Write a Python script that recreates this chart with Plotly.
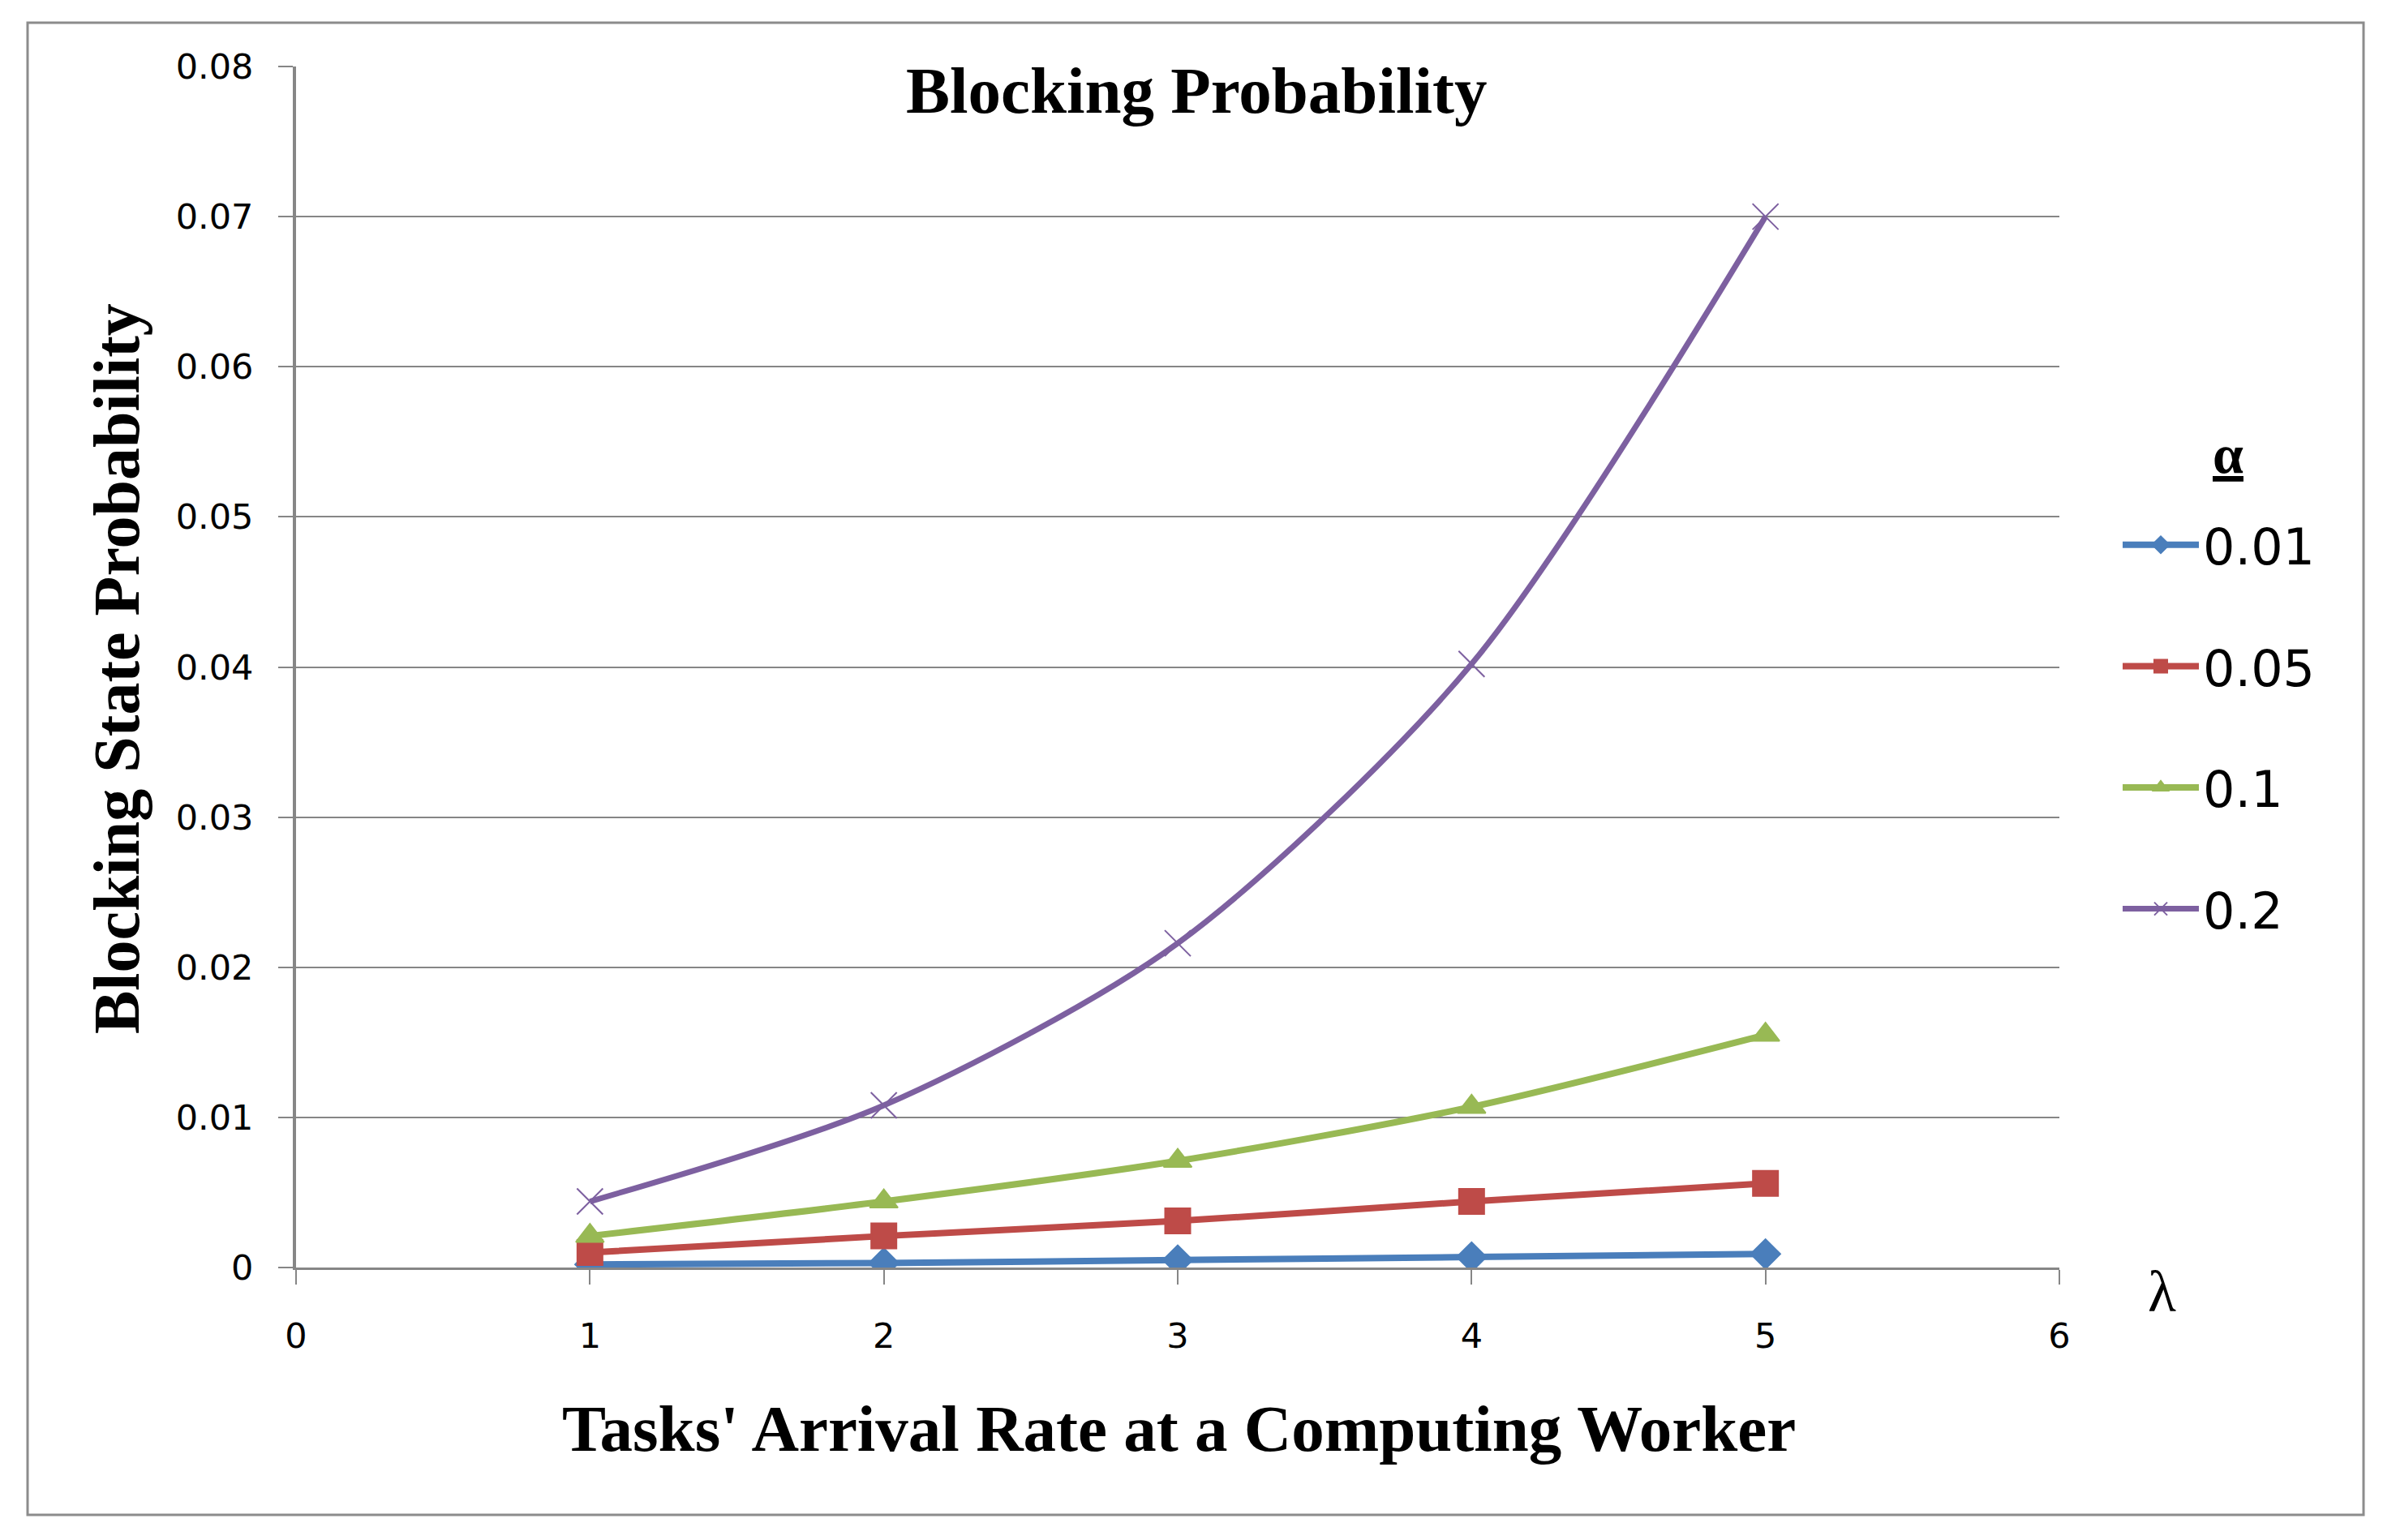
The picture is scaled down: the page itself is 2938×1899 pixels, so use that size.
import plotly.graph_objects as go

W, H = 2938, 1899
OFF = 8  # page body margin
FW, FH = W - 2 * OFF, H - 2 * OFF
L, R, T, B = 365 - OFF, 2539 - OFF, 82 - OFF, 1563 - OFF  # plot area in figure px

x_vals = [1, 2, 3, 4, 5]
series_names = ["0.01", "0.05", "0.1", "0.2"]
y_001 = [0.0002, 0.0003, 0.0005, 0.0007, 0.0009]
y_005 = [0.0010, 0.0021, 0.0031, 0.0044, 0.0056]
y_01 = [0.0021, 0.0044, 0.0071, 0.0107, 0.0155]
y_02 = [0.0044, 0.0108, 0.0216, 0.0402, 0.0700]
x_ticks = [0, 1, 2, 3, 4, 5, 6]
y_ticks = [0, 0.01, 0.02, 0.03, 0.04, 0.05, 0.06, 0.07, 0.08]

colors = ["#4A7EBB", "#BE4B48", "#98B954", "#7D60A0"]
symbols = ["diamond", "square", "triangle-up", "x-thin-open"]
msizes = [28, 31, 30, 32]
lwidths = [8, 8, 8, 7]

fig = go.Figure()
for name, ys, c, s, ms, lw in zip(series_names, [y_001, y_005, y_01, y_02], colors, symbols, msizes, lwidths):
    fig.add_trace(go.Scatter(
        x=x_vals, y=ys, name=name, mode="lines+markers",
        line=dict(color=c, width=lw, shape="spline", smoothing=0.8),
        marker=dict(symbol=s, size=ms, color=c, line=dict(color=c, width=2)),
        legendgroup=name,
    ))

def px_x(p):
    return (p - OFF - L) / (R - L)

def px_y(p):
    return (B - (p - OFF)) / (B - T)

def ann(text, x, y, size, angle=0):
    return dict(text=text, x=px_x(x), y=px_y(y), xref="paper", yref="paper",
                xanchor="center", yanchor="middle", showarrow=False, textangle=angle,
                font=dict(family="Liberation Serif", size=size, color="black"))

fig.update_layout(
    width=FW, height=FH, autosize=False,
    margin=dict(l=L, r=FW - R, t=T, b=FH - B),
    paper_bgcolor="white", plot_bgcolor="white",
    font=dict(family="DejaVu Sans", color="black"),
    showlegend=True,
    legend=dict(
        x=px_x(2612), y=px_y(625), xanchor="left", yanchor="top",
        font=dict(family="DejaVu Sans", size=62, color="black"),
        tracegroupgap=66, itemwidth=94, bgcolor="rgba(0,0,0,0)",
    ),
    xaxis=dict(
        range=[0, 6], tickvals=x_ticks, ticktext=[str(v) for v in x_ticks],
        showgrid=False, zeroline=False,
        showline=True, linecolor="#868686", linewidth=3,
        ticks="outside", ticklen=18, tickwidth=2, tickcolor="#868686",
        tickfont=dict(family="DejaVu Sans", size=43, color="black"),
        ticklabelstandoff=26,
    ),
    yaxis=dict(
        range=[0, 0.08], tickvals=y_ticks, ticktext=["0"] + [f"{v:.2f}" for v in y_ticks[1:]],
        showgrid=True, gridcolor="#868686", gridwidth=2, zeroline=False,
        showline=True, linecolor="#868686", linewidth=4,
        ticks="outside", ticklen=18, tickwidth=2, tickcolor="#868686",
        tickfont=dict(family="DejaVu Sans", size=43, color="black"),
        ticklabelstandoff=22,
    ),
    shapes=[dict(
        type="rect", xref="paper", yref="paper",
        x0=px_x(34), x1=px_x(2914), y0=px_y(1868), y1=px_y(28),
        line=dict(color="#8C8C8C", width=3), fillcolor="rgba(0,0,0,0)", layer="below",
    )],
    annotations=[
        ann("<b>Blocking Probability</b>", 1475, 112, 81),
        ann("<b>Tasks' Arrival Rate at a Computing Worker</b>", 1453, 1762, 81),
        ann("<b>Blocking State Probability</b>", 144, 825, 80, -90),
        ann("λ", 2665, 1593, 72),
        ann("<b><u>α</u></b>", 2747, 560, 68),
    ],
)

fig.write_html("out.html")
